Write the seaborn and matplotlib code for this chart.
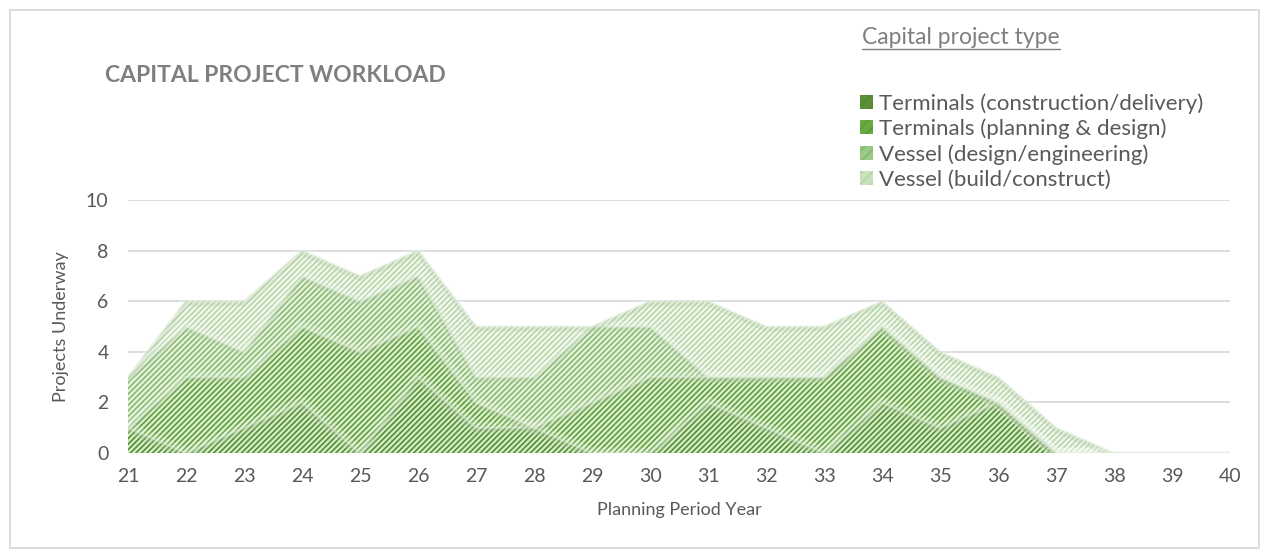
import numpy as np
import matplotlib
matplotlib.use("Agg")
import matplotlib.pyplot as plt
from matplotlib.patches import Patch, Rectangle
from matplotlib.lines import Line2D
import seaborn as sns

# Datos
years = list(range(21, 41))
series_names = [
    "Terminals (construction/delivery)",
    "Terminals (planning & design)",
    "Vessel (design/engineering)",
    "Vessel (build/construct)",
]
term_construction = [1, 0, 1, 2, 0, 3, 1, 1, 0, 0, 2, 1, 0, 2, 1, 2, 0, 0, 0, 0]
term_planning     = [0, 3, 2, 3, 4, 2, 1, 0, 2, 3, 1, 2, 3, 3, 2, 0, 0, 0, 0, 0]
vessel_design     = [2, 2, 1, 2, 2, 2, 1, 2, 3, 2, 0, 0, 0, 0, 0, 0, 0, 0, 0, 0]
vessel_build      = [0, 1, 2, 1, 1, 1, 2, 2, 0, 1, 3, 2, 2, 1, 1, 1, 1, 0, 0, 0]
y_ticks = [0, 2, 4, 6, 8, 10]

# Colores
GRIS_T = "#7f7f7f"
GRIS   = "#595959"
REJILLA = "#d9d9d9"
FG = ["#4a8a28", "#559a30", "#80b768", "#b3d4a3"]
BG = ["#d4e9c6", "#dbedce", "#e5f1dc", "#f1f7ed"]
SWATCH = ["#5b8f3c", "#6aaa45", "#9cc98a", "#c9e2bd"]

sns.set_theme(style="white")
plt.rcParams["font.family"] = ["Lato", "DejaVu Sans"]
plt.rcParams["hatch.linewidth"] = 1.1

fig = plt.figure(figsize=(12.69, 5.58), dpi=100)
ax = fig.add_axes([128 / 1269, 105 / 558, 1102 / 1269, 253 / 558])

x = np.array(years)
stack = np.array([term_construction, term_planning, vessel_design, vessel_build], dtype=float)
cum = np.cumsum(stack, axis=0)
lower = np.zeros(len(years))
for i in range(4):
    upper = cum[i]
    ax.fill_between(x, lower, upper, facecolor=BG[i], edgecolor=FG[i],
                    hatch="//////", linewidth=0, zorder=2 + i * 0.1)
    lower = upper

# bordes suaves entre capas (sombra difusa)
for i in range(4):
    sns.lineplot(x=x, y=cum[i], ax=ax, color="white", linewidth=8, alpha=0.18, zorder=3)
    sns.lineplot(x=x, y=cum[i] - 0.1, ax=ax, color="#3f7a22", linewidth=4, alpha=0.1, zorder=3)
    sns.lineplot(x=x, y=cum[i], ax=ax, color="#e8f2e2", linewidth=2, alpha=0.35, zorder=3)

ax.set_xlim(21, 40)
ax.set_ylim(0, 10)
ax.set_xticks(years)
ax.set_xticklabels([str(y) for y in years])
ax.set_yticks(y_ticks)
ax.set_yticklabels([str(v) for v in y_ticks])
ax.grid(axis="y", color=REJILLA, linewidth=1.3, zorder=0)
ax.grid(axis="x", visible=False)
ax.set_axisbelow(True)
sns.despine(ax=ax, left=True, bottom=True)
ax.tick_params(axis="both", length=0, labelsize=14, labelcolor=GRIS)
ax.tick_params(axis="y", pad=14)
ax.tick_params(axis="x", pad=11)
ax.set_xlabel("Planning Period Year", fontsize=13, color=GRIS, labelpad=12)
ax.set_ylabel("Projects Underway", fontsize=13, color=GRIS, labelpad=12)

# Marco exterior
fig.patches.append(Rectangle((10 / 1269, 10 / 558), 1249 / 1269, 538 / 558,
                             transform=fig.transFigure, fill=False,
                             edgecolor=REJILLA, linewidth=1.3))

# Título
fig.text(105 / 1269, 1 - 76 / 558, "CAPITAL PROJECT WORKLOAD", ha="left", va="center",
         fontsize=16.5, fontweight="bold", color=GRIS_T)

# Leyenda
lt = fig.text(862 / 1269, 1 - 37 / 558, "Capital project type", ha="left", va="center",
              fontsize=16.5, color=GRIS_T)
fig.canvas.draw()
bb = lt.get_window_extent().transformed(fig.transFigure.inverted())
fig.add_artist(Line2D([bb.x0, bb.x1], [bb.y0 - 0.003, bb.y0 - 0.003],
                      transform=fig.transFigure, color=GRIS_T, linewidth=1))

handles = [Patch(facecolor=SWATCH[i], edgecolor=FG[i], hatch="///", linewidth=0)
           for i in range(4)]
fig.legend(handles, series_names, loc="upper left",
           bbox_to_anchor=(860 / 1269, 1 - 93 / 558), bbox_transform=fig.transFigure,
           frameon=False, fontsize=16, labelcolor=GRIS, handlelength=0.6,
           handleheight=0.6, handletextpad=0.25, labelspacing=0.22, borderpad=0,
           borderaxespad=0)

fig.savefig("out.png", dpi=100, facecolor="white")
